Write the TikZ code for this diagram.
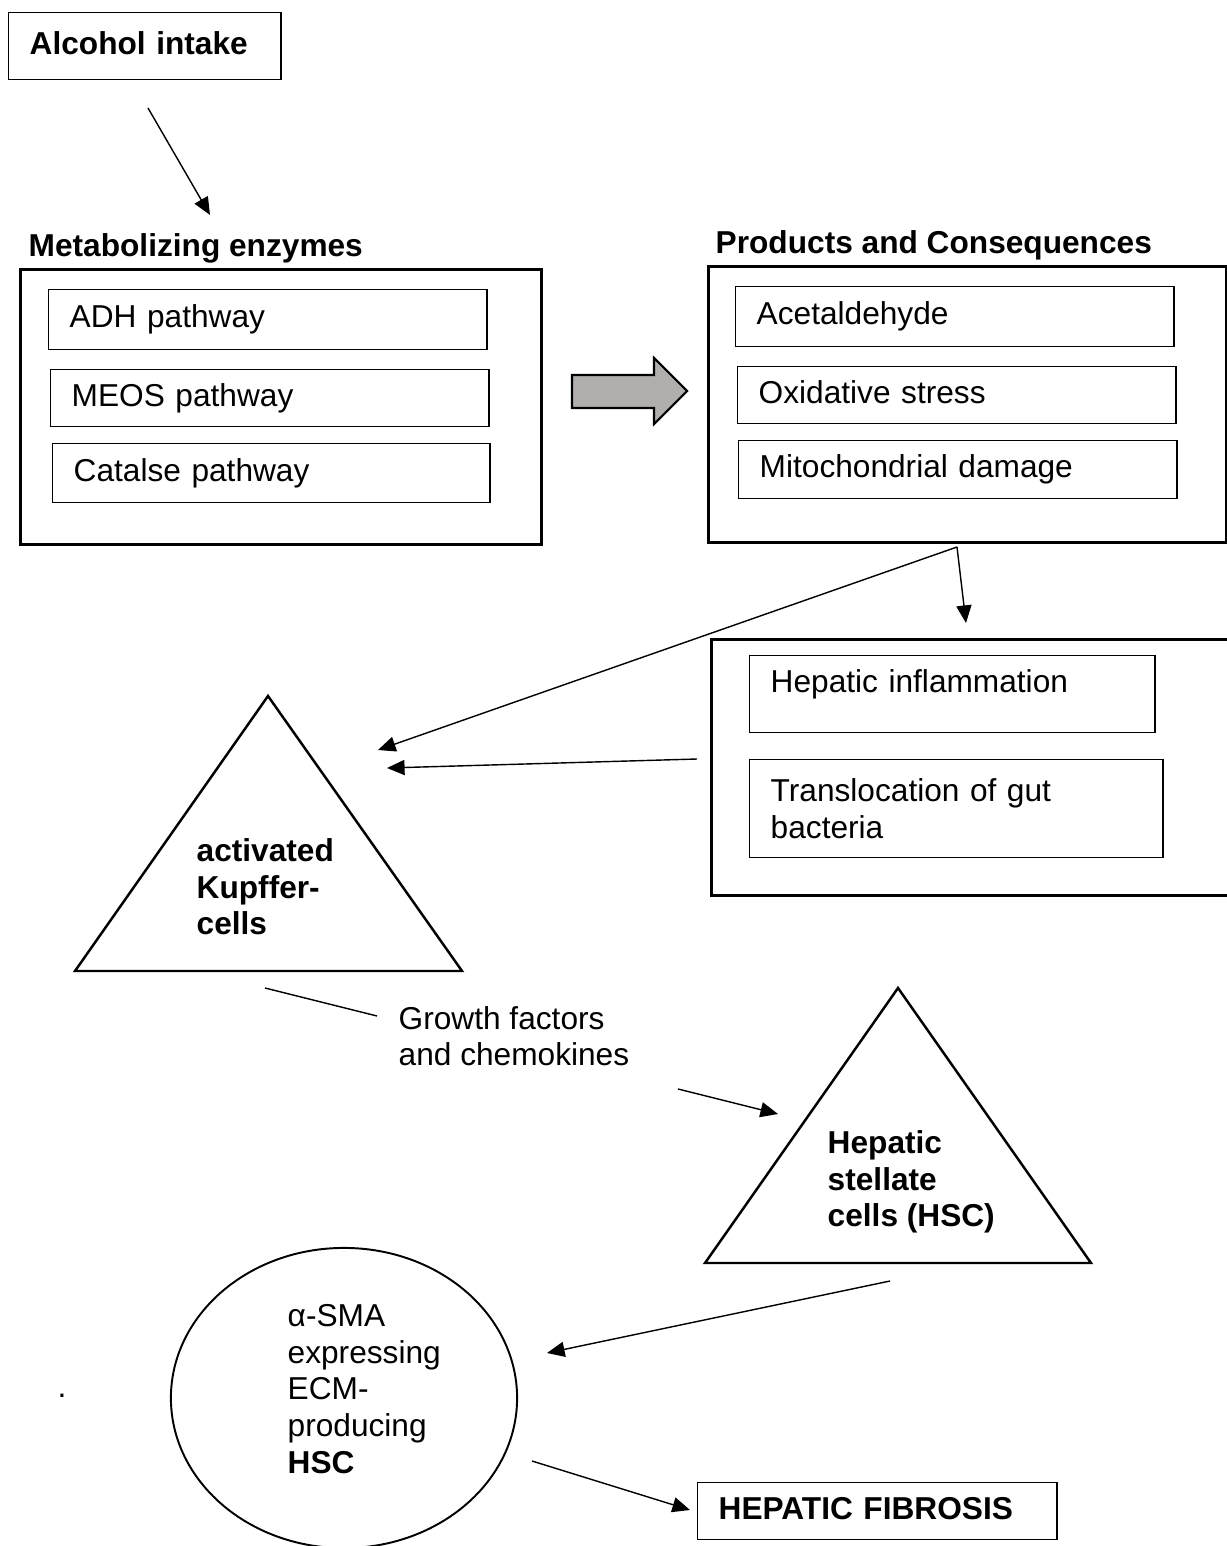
\documentclass[tikz,border=0pt]{standalone}
\usepackage{fontspec}
\setmainfont{Liberation Sans}
\usetikzlibrary{arrows.meta, shapes.geometric}
\definecolor{arrowgray}{RGB}{178,174,174}

\begin{document}
\begin{tikzpicture}[x=0.01cm, y=-0.01cm, font=\fontsize{9pt}{10.4pt}\selectfont,
    box/.style={draw, line width=0.4pt, anchor=north west, inner xsep=0.21cm, inner ysep=0pt, align=left},
    oneline/.style={text height=6.5pt, text depth=1.9pt},
    frame/.style={draw, line width=0.8pt, anchor=north west, inner sep=0pt},
    cell/.style={draw, line width=0.7pt, line join=miter},
    lbl/.style={anchor=west, align=left, inner sep=0pt},
    arr/.style={-{Triangle[length=5pt,width=4.3pt]}, line width=0.4pt}]
    \useasboundingbox (0,0) rectangle (1226,1546);

    % Start
    \node[box, oneline, text width=2.30cm, minimum height=0.67cm] (alcohol) at (8,12) {\textbf{Alcohol intake}};

    % Metabolizing enzymes
    \node[anchor=base west, inner sep=0pt] (metabtitle) at (28,257) {\textbf{Metabolizing enzymes}};
    \node[frame, minimum width=5.21cm, minimum height=2.75cm] (metab) at (19,268) {};
    \node[box, oneline, text width=3.96cm, minimum height=0.60cm] (adh) at (48,289) {ADH pathway};
    \node[box, oneline, text width=3.96cm, minimum height=0.57cm] (meos) at (50,369) {MEOS pathway};
    \node[box, oneline, text width=3.95cm, minimum height=0.59cm] (catalse) at (52,443) {Catalse pathway};

    % Products and Consequences
    \node[anchor=base west, inner sep=0pt] (prodtitle) at (715,254) {\textbf{Products and Consequences}};
    \node[frame, minimum width=5.18cm, minimum height=2.76cm] (prod) at (707,265) {};
    \node[box, oneline, text width=3.96cm, minimum height=0.60cm] (acet) at (735,286) {Acetaldehyde};
    \node[box, oneline, text width=3.96cm, minimum height=0.57cm] (oxid) at (737,366) {Oxidative stress};
    \node[box, oneline, text width=3.96cm, minimum height=0.58cm] (mito) at (738,440) {Mitochondrial damage};

    % Big arrow between the groups
    \draw[line width=0.6pt, fill=arrowgray, line join=miter]
        (572,375) -- (654,375) -- (654,358) -- (687,391) -- (654,424) -- (654,408) -- (572,408) -- cycle;

    % Inflammation group
    \node[frame, minimum width=5.30cm, minimum height=2.56cm] (infl) at (710,638) {};
    \node[box, text height=6.5pt, text depth=7.4pt, text width=3.63cm, minimum height=0.77cm] (hepinfl) at (749,655) {Hepatic inflammation};
    \node[box, text width=3.71cm, minimum height=0.98cm] (transloc) at (749,759) {Translocation of gut\\bacteria};

    % Kupffer cells
    \coordinate (k1) at (268,696);
    \coordinate (k2) at (75,971);
    \coordinate (k3) at (462,971);
    \draw[cell] (k1) -- (k2) -- (k3) -- cycle;
    \node[lbl] (kupffer) at (196,887) {\textbf{activated}\\\textbf{Kupffer-}\\\textbf{cells}};

    % Hepatic stellate cells
    \coordinate (h1) at (898,988);
    \coordinate (h2) at (705,1263);
    \coordinate (h3) at (1091,1263);
    \draw[cell] (h1) -- (h2) -- (h3) -- cycle;
    \node[lbl] (hsc) at (827,1182) {\textbf{Hepatic}\\\textbf{stellate}\\\textbf{cells (HSC)}};

    \node[lbl] (growth) at (398,1036) {Growth factors\\and chemokines};

    % ECM producing HSC
    \node[draw, ellipse, line width=0.55pt, minimum width=3.46cm, minimum height=3.00cm, inner sep=0pt] (ecm) at (344,1398) {};
    \node[lbl] (ecmtext) at (287,1389) {α-SMA\\expressing\\ECM-\\producing\\\textbf{HSC}};
    \node[anchor=base west, inner sep=0pt] (dot) at (57,1397) {.};

    \node[box, oneline, text width=3.17cm, minimum height=0.57cm] (fibrosis) at (697,1482) {\textbf{HEPATIC FIBROSIS}};

    % Connector ends
    \coordinate (a1) at (148,108);
    \coordinate (a2) at (210,215);
    \coordinate (fork) at (957,547);
    \coordinate (f1) at (966,623);
    \coordinate (f2) at (378,750);
    \coordinate (t1) at (697,759);
    \coordinate (t2) at (387,768);
    \coordinate (g1) at (265,988);
    \coordinate (g2) at (377,1016);
    \coordinate (g3) at (678,1089);
    \coordinate (g4) at (778,1114);
    \coordinate (s1) at (890,1281);
    \coordinate (s2) at (547,1353);
    \coordinate (e1) at (532,1461);
    \coordinate (e2) at (690,1510);

    % Connectors
    \draw[arr] (a1) -- (a2);
    \draw[arr] (fork) -- (f1);
    \draw[arr] (fork) -- (f2);
    \draw[arr] (t1) -- (t2);
    \draw[line width=0.4pt] (g1) -- (g2);
    \draw[arr] (g3) -- (g4);
    \draw[arr] (s1) -- (s2);
    \draw[arr] (e1) -- (e2);
\end{tikzpicture}
\end{document}
